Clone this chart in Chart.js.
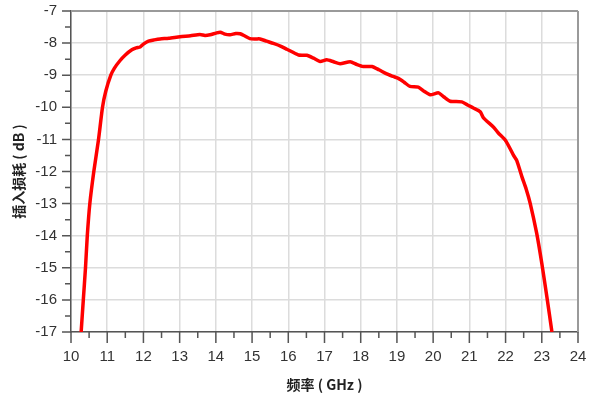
<!DOCTYPE html>
<html>
<head>
<meta charset="utf-8">
<script src="https://cdn.jsdelivr.net/npm/chart.js@4/dist/chart.umd.min.js"></script>
<style>
  html, body { margin: 0; padding: 0; background: #fff; }
  #wrap { width: 594px; height: 401px; }
</style>
</head>
<body>
<div id="wrap"><canvas id="lossChart"></canvas></div>
<script>
// 频率 (GHz)
var freqGHz = [10.28, 10.34, 10.40, 10.45, 10.52, 10.63, 10.76, 10.87, 10.96, 11.1,
  11.2, 11.35, 11.5, 11.68, 11.8, 11.91, 12.0, 12.14, 12.3,
  12.46, 12.7, 13.01, 13.3, 13.56, 13.7, 13.84, 14.0, 14.12, 14.25,
  14.39, 14.55, 14.67, 14.8, 14.94, 15.1, 15.22, 15.4, 15.59, 15.8,
  15.96, 16.1, 16.28, 16.51, 16.7, 16.88, 17.06, 17.25, 17.43, 17.71,
  17.9, 18.07, 18.31, 18.5, 18.72, 18.9, 19.04, 19.2, 19.36, 19.59,
  19.75, 19.92, 20.15, 20.3, 20.47, 20.79, 20.95, 21.11, 21.3, 21.39,
  21.67, 21.8, 21.99, 22.13, 22.22, 22.31, 22.45, 22.57, 22.68, 22.86,
  23.0, 23.14, 23.28];
// 插入损耗 (dB)
var lossDB = [-17, -16, -15, -14, -13, -12, -11, -10.0, -9.5, -9.0,
  -8.78, -8.55, -8.37, -8.21, -8.15, -8.12, -8.03, -7.94, -7.9,
  -7.87, -7.85, -7.8, -7.77, -7.73, -7.76, -7.74, -7.69, -7.66, -7.72,
  -7.74, -7.7, -7.71, -7.78, -7.86, -7.87, -7.87, -7.94, -8.01, -8.1,
  -8.19, -8.27, -8.37, -8.38, -8.47, -8.57, -8.52, -8.58, -8.64, -8.58,
  -8.67, -8.73, -8.73, -8.83, -8.96, -9.04, -9.1, -9.22, -9.35, -9.37,
  -9.5, -9.61, -9.55, -9.68, -9.81, -9.83, -9.93, -10.02, -10.14, -10.33,
  -10.62, -10.8, -11.02, -11.3, -11.5, -11.66, -12.16, -12.55, -12.99, -13.93,
  -14.86, -15.9, -17.0];
var xTicks = [10, 24, 1];
var yTicks = [-17, -7, 1];

var points = freqGHz.map(function (f, i) { return { x: f, y: lossDB[i] }; });

// tick marks (major + minor) and the grey frame on top / right
var frameTicks = {
  id: 'frameTicks',
  afterDraw: function (chart) {
    var c = chart.ctx, a = chart.chartArea;
    var xs = chart.scales.x, ys = chart.scales.y;
    c.save();
    c.strokeStyle = '#9a9a9a';
    c.lineWidth = 2;
    c.beginPath();
    c.moveTo(a.left, a.top); c.lineTo(a.right, a.top);
    c.moveTo(a.right, a.top); c.lineTo(a.right, a.bottom);
    c.stroke();
    c.strokeStyle = '#555';
    c.lineWidth = 1.5;
    c.beginPath();
    for (var v = xTicks[0]; v <= xTicks[1] + 1e-9; v += 0.5) {
      var px = xs.getPixelForValue(v);
      var len = (Math.abs(v - Math.round(v)) < 1e-9) ? 11 : 6;
      c.moveTo(px, a.bottom); c.lineTo(px, a.bottom + len);
    }
    for (var w = yTicks[0]; w <= yTicks[1] + 1e-9; w += 0.5) {
      var py = ys.getPixelForValue(w);
      var len2 = (Math.abs(w - Math.round(w)) < 1e-9) ? 9 : 6;
      c.moveTo(a.left, py); c.lineTo(a.left - len2, py);
    }
    c.stroke();
    c.restore();
  }
};

var ctx = document.getElementById('lossChart');
var lossChart = new Chart(ctx, {
  type: 'line',
  data: {
    datasets: [{
      data: points,
      borderColor: '#ff0000',
      backgroundColor: '#ff0000',
      borderWidth: 3.5,
      pointRadius: 0,
      tension: 0.2,
      fill: false
    }]
  },
  options: {
    responsive: true,
    maintainAspectRatio: false,
    animation: false,
    layout: { padding: { left: 0, right: 16, top: 11, bottom: 0 } },
    plugins: { legend: { display: false }, tooltip: { enabled: false } },
    scales: {
      x: {
        type: 'linear',
        min: xTicks[0], max: xTicks[1],
        afterFit: function (s) { s.height = 69; },
        ticks: { stepSize: xTicks[2], padding: 0, color: '#333',
          font: { family: 'Liberation Sans, Arial', size: 15 } },
        grid: { color: '#dcdcdc', lineWidth: 1.5, drawTicks: true,
          tickLength: 16, tickColor: 'rgba(0,0,0,0)' },
        border: { color: '#555', width: 1.5 },
        title: { display: true, text: '频率 ( GHz )', color: '#222',
          padding: { top: 0, bottom: 8 },
          font: { family: 'Noto Sans CJK SC', size: 14, weight: 'bold' } }
      },
      y: {
        min: yTicks[0], max: yTicks[1],
        afterFit: function (s) { s.width = 71; },
        ticks: { stepSize: yTicks[2], padding: 0, color: '#333',
          font: { family: 'Liberation Sans, Arial', size: 15 } },
        grid: { color: '#dcdcdc', lineWidth: 1.5, drawTicks: true,
          tickLength: 14, tickColor: 'rgba(0,0,0,0)' },
        border: { color: '#555', width: 1.5 },
        title: { display: true, text: '插入损耗 ( dB )', color: '#222',
          padding: { top: 10, bottom: 0 },
          font: { family: 'Noto Sans CJK SC', size: 14, weight: 'bold' } }
      }
    }
  },
  plugins: [frameTicks]
});
</script>
</body>
</html>
